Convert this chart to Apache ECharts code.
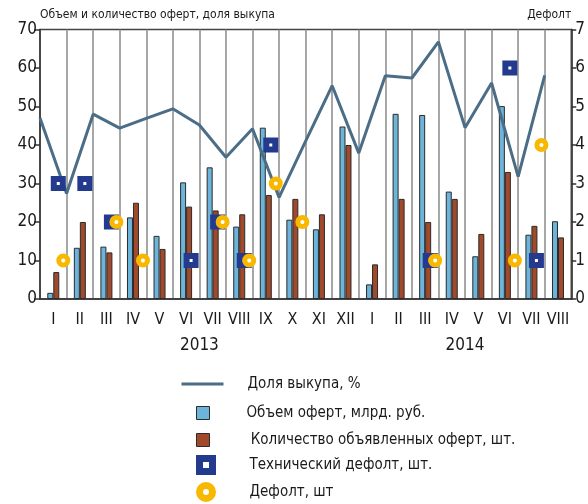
<!DOCTYPE html>
<html>
<head>
<meta charset="utf-8">
<script src="https://cdn.jsdelivr.net/npm/echarts@6/dist/echarts.min.js"></script>
<style>
  html, body { margin: 0; padding: 0; background: #fff; }
  #chart { width: 588px; height: 504px; }
</style>
</head>
<body>
<div id="chart"></div>
<script>
// месяцы 2013 (I-XII) и 2014 (I-VIII)
var months = ['I','II','III','IV','V','VI','VII','VIII','IX','X','XI','XII',
              'I','II','III','IV','V','VI','VII','VIII'];
// подписи годов на границах месяцев (21 граница)
var yearLabels = ['','','','','','','2013','','','','','','','','','','2014','','','',''];

// Объем оферт, млрд. руб.
var volume = [1.6, 13.3, 13.6, 21.2, 16.4, 30.3, 34.2, 18.8, 44.5, 20.6, 18.1, 44.8,
              3.8, 48.1, 47.8, 27.9, 11.1, 50.1, 16.7, 20.2];
// Количество объявленных оферт, шт.
var count = [7, 20, 12.1, 25, 13, 24, 23, 22, 27, 26, 22, 40,
             9, 26, 20, 26, 16.9, 33, 19, 16];
// Доля выкупа, %
var share = [47.0, 27.4, 48.0, 44.4, 46.9, 49.4, 45.2, 36.8, 44.2, 26.4, 41.0, 55.4,
             37.9, 58.0, 57.4, 66.8, 44.5, 56.1, 31.8, 58.1];
// Технический дефолт, шт.
var techDefault = [3, 3, 2, '-', '-', 1, 2, 1, 4, '-', '-', '-',
                   '-', '-', 1, '-', '-', 6, 1, '-'];
// Дефолт, шт
var defaults = [1, '-', 2, 1, '-', '-', 2, 1, 3, 2, '-', '-',
                '-', '-', 1, '-', '-', 1, 4, '-'];

var FONT = '"DejaVu Sans Condensed", "Liberation Sans Narrow", sans-serif';

var C_LINE = '#4b6d86';
var C_BLUE = '#6cb4d9';
var C_BROWN = '#a04a2b';
var C_NAVY = '#233a8e';
var C_YELLOW = '#f9b800';

var names = ['Доля выкупа, %', 'Объем оферт, млрд. руб.', ' Количество объявленных оферт, шт.',
             'Технический дефолт, шт.', 'Дефолт, шт'];

// одна легенда на строку, чтобы выровнять значки по центру
function legendRow(name, top, iconW, iconH, pad, extra) {
  var item = { name: name };
  if (extra) { for (var k in extra) item[k] = extra[k]; }
  return {
    data: [item],
    left: 202.5 - iconW / 2,
    top: top,
    padding: 0,
    itemWidth: iconW,
    itemHeight: iconH,
    selectedMode: false,
    textStyle: { fontFamily: FONT, fontSize: 15, color: '#1a1a1a', lineHeight: 20, padding: [0, 0, 0, pad] }
  };
}

var chart = echarts.init(document.getElementById('chart'));

var option = {
  animation: false,
  backgroundColor: '#fff',
  grid: { left: 40, right: 15, top: 29.5, bottom: 205, show: true, borderColor: '#444', borderWidth: 1.5 },
  legend: [
    legendRow(names[0], 374, 42, 3, 19, { icon: 'rect', itemStyle: { color: C_LINE, borderWidth: 0 } }),
    legendRow(names[1], 403, 13, 13, 32, { icon: 'rect', itemStyle: { color: C_BLUE, borderColor: '#2b2b2b', borderWidth: 1 } }),
    legendRow(names[2], 430, 13, 13, 32, { icon: 'rect', itemStyle: { color: C_BROWN, borderColor: '#2b2b2b', borderWidth: 1 } }),
    legendRow(names[3], 455, 13, 13, 32, { icon: 'rect', itemStyle: { color: '#fff', borderColor: C_NAVY, borderWidth: 7 } }),
    legendRow(names[4], 482, 13, 13, 32, { icon: 'circle', itemStyle: { color: '#fff', borderColor: C_YELLOW, borderWidth: 7 } })
  ],
  xAxis: [
    {
      type: 'category',
      data: months,
      axisLine: { lineStyle: { color: '#333', width: 1.5 } },
      axisTick: { show: false },
      axisLabel: { interval: 0, margin: 13, fontFamily: FONT, fontSize: 16, color: '#1a1a1a' },
      splitLine: { show: true, interval: 0, lineStyle: { color: '#8a8a8a', width: 1.5 } }
    },
    {
      // границы месяцев: линия доли выкупа и подписи годов
      type: 'category',
      data: yearLabels,
      boundaryGap: false,
      position: 'bottom',
      offset: 32,
      axisLine: { show: false },
      axisTick: { show: false },
      axisLabel: { interval: 0, margin: 6, fontFamily: FONT, fontSize: 17, color: '#1a1a1a' },
      splitLine: { show: false }
    }
  ],
  yAxis: [
    {
      type: 'value',
      min: 0, max: 70, interval: 10,
      name: 'Объем и количество оферт, доля выкупа',
      nameLocation: 'end',
      nameGap: 6,
      nameTextStyle: { fontFamily: FONT, fontSize: 12, color: '#1a1a1a', align: 'left', padding: [0, 0, 0, 0] },
      axisLine: { show: true, lineStyle: { color: '#333', width: 1.5 } },
      axisTick: { show: true, length: 6, lineStyle: { color: '#333', width: 1.5 } },
      axisLabel: { margin: 3, fontFamily: FONT, fontSize: 17, color: '#1a1a1a' },
      splitLine: { show: false }
    },
    {
      type: 'value',
      min: 0, max: 7, interval: 1,
      position: 'right',
      name: 'Дефолт',
      nameLocation: 'end',
      nameGap: 6,
      nameTextStyle: { fontFamily: FONT, fontSize: 12, color: '#1a1a1a', align: 'right', padding: [0, 0, 0, 0] },
      axisLine: { show: true, lineStyle: { color: '#333', width: 1.5 } },
      axisTick: { show: true, length: 5, lineStyle: { color: '#333', width: 1.5 } },
      axisLabel: { margin: 4, fontFamily: FONT, fontSize: 17, color: '#1a1a1a' },
      splitLine: { show: false }
    }
  ],
  series: [
    {
      name: names[0],
      type: 'line',
      xAxisIndex: 1,
      yAxisIndex: 0,
      data: share,
      symbol: 'none',
      z: 3,
      lineStyle: { color: C_LINE, width: 3 },
      itemStyle: { color: C_LINE }
    },
    {
      name: names[1],
      type: 'bar',
      data: volume,
      barWidth: 6,
      barGap: '0%',
      z: 2,
      itemStyle: { color: C_BLUE, borderColor: '#2b2b2b', borderWidth: 1 }
    },
    {
      name: names[2],
      type: 'bar',
      data: count,
      barWidth: 6,
      barGap: '0%',
      z: 2,
      itemStyle: { color: C_BROWN, borderColor: '#2b2b2b', borderWidth: 1 }
    },
    {
      name: names[3],
      type: 'scatter',
      yAxisIndex: 1,
      data: techDefault,
      symbol: 'rect',
      symbolSize: 9,
      symbolOffset: [5, 0],
      z: 4,
      itemStyle: { color: '#fff', borderColor: C_NAVY, borderWidth: 6, opacity: 1 }
    },
    {
      name: names[4],
      type: 'scatter',
      yAxisIndex: 1,
      data: defaults,
      symbol: 'circle',
      symbolSize: 9,
      symbolOffset: [10, 0],
      z: 5,
      itemStyle: { color: '#fff', borderColor: C_YELLOW, borderWidth: 5, opacity: 1 }
    }
  ]
};

chart.setOption(option);
</script>
</body>
</html>
